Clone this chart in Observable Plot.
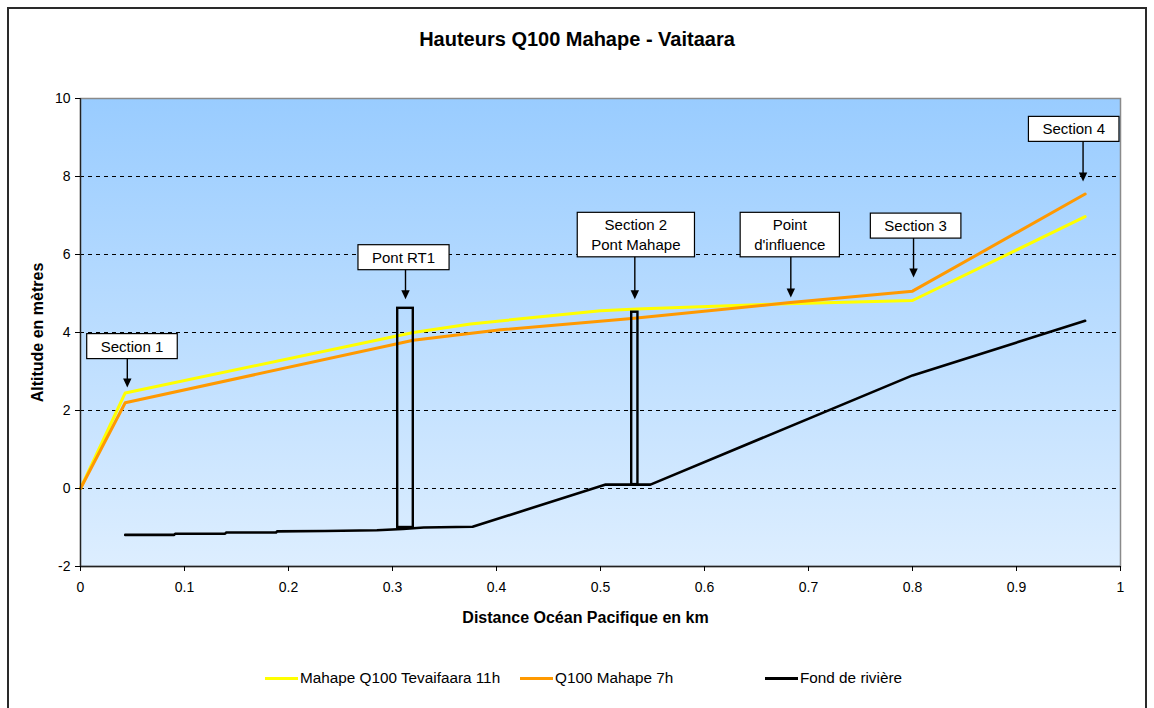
<!DOCTYPE html>
<html>
<head>
<meta charset="utf-8">
<script src="https://cdn.jsdelivr.net/npm/d3@7"></script>
<script src="https://cdn.jsdelivr.net/npm/@observablehq/plot@0.6"></script>
<style>
  html, body { margin: 0; padding: 0; background: #fff; }
  body { font-family: "Liberation Sans", Arial, sans-serif; color: #000; }
  #wrap { position: relative; width: 1154px; height: 708px; overflow: hidden; }
  #border { position: absolute; left: 7px; top: 7px; width: 1140px; height: 780px; border: 2px solid #2a2a2a; box-sizing: border-box; }
  #title { position: absolute; left: 0; top: 28px; width: 1154px; text-align: center; font-weight: bold; font-size: 20px; }
  #chart { position: absolute; left: 0; top: 60px; }
  #legend { position: absolute; left: 0; top: 668px; width: 1154px; height: 22px; font-size: 15.3px; }
  .item { position: absolute; top: 0; display: flex; align-items: center; height: 20px; white-space: nowrap; }
  .sw { display: inline-block; width: 33px; height: 3px; margin-right: 2px; }
</style>
</head>
<body>
<div id="wrap">
  <div id="border"></div>
  <div id="title"></div>
  <div id="chart"></div>
  <div id="legend"></div>
</div>
<script>
// ---------- Données ----------
const titre = "Hauteurs Q100 Mahape - Vaitaara";
const labelX = "Distance Océan Pacifique en km";
const labelY = "Altitude en mètres";

const xTicks = [0, 0.1, 0.2, 0.3, 0.4, 0.5, 0.6, 0.7, 0.8, 0.9, 1];
const yTicks = [-2, 0, 2, 4, 6, 8, 10];
const gridY = [0, 2, 4, 6, 8];

const seriesNames = ["Mahape Q100 Tevaifaara 11h", "Q100 Mahape 7h", "Fond de rivière"];

// Mahape Q100 Tevaifaara 11h
const distTevaifaara = [0, 0.043, 0.32, 0.375, 0.5, 0.535, 0.68, 0.8, 0.966];
const hautTevaifaara = [0, 2.45, 4.0, 4.22, 4.56, 4.6, 4.74, 4.82, 6.97];

// Q100 Mahape 7h
const distMahape7h = [0, 0.043, 0.32, 0.404, 0.53, 0.68, 0.8, 0.966];
const hautMahape7h = [0, 2.2, 3.8, 4.07, 4.36, 4.76, 5.06, 7.55];

// Fond de rivière
const distFond = [0.043, 0.09, 0.091, 0.139, 0.14, 0.188, 0.189, 0.235, 0.285, 0.31, 0.33, 0.377, 0.505, 0.548, 0.8, 0.966];
const altFond = [-1.19, -1.19, -1.16, -1.16, -1.13, -1.13, -1.1, -1.09, -1.07, -1.04, -1.0, -0.98, 0.1, 0.1, 2.9, 4.3];

// Ponts (profil)
const pontNoms = ["Pont RT1", "Pont Mahape"];
const pontDebut = [0.305, 0.530];
const pontFin = [0.320, 0.536];
const pontBas = [-1.0, 0.1];
const pontHaut = [4.62, 4.52];

// Annotations
const annotTextes = ["Section 1", "Pont RT1", "Section 2\nPont Mahape", "Point\nd'influence", "Section 3", "Section 4"];
const annotX = [0.0495, 0.3106, 0.534, 0.682, 0.803, 0.955];
const annotY = [3.67, 5.95, 6.53, 6.53, 6.76, 9.24];
const flecheX = [0.045, 0.3125, 0.533, 0.683, 0.801, 0.964];
const flecheY = [2.59, 4.85, 4.85, 4.9, 5.41, 7.87];

// ---------- Construction ----------
const seriesColors = ["#FFFF00", "#FF9900", "#000000"];
const rows = (xs, ys) => xs.map((d, i) => ({d, h: ys[i]}));
const tevaifaara = rows(distTevaifaara, hautTevaifaara);
const mahape7h = rows(distMahape7h, hautMahape7h);
const fond = rows(distFond, altFond);
const ponts = pontNoms.map((n, i) => ({n, x1: pontDebut[i], x2: pontFin[i], y1: pontBas[i], y2: pontHaut[i]}));
const annots = annotTextes.map((t, i) => ({t, lx: annotX[i], ly: annotY[i], fx: flecheX[i], fy: flecheY[i]}));

const flecheSymbol = {
  draw(ctx) {
    ctx.moveTo(-4.2, -9);
    ctx.lineTo(4.2, -9);
    ctx.lineTo(0, 0);
    ctx.closePath();
  }
};

document.getElementById("title").textContent = titre;

const FONT = "'Liberation Sans', Arial, sans-serif";
const chart = Plot.plot({
  width: 1154,
  height: 576,
  marginLeft: 80,
  marginRight: 34,
  marginTop: 38,
  marginBottom: 70,
  x: {domain: [0, 1]},
  y: {domain: [-2, 10]},
  style: {fontFamily: FONT, fontSize: "14px", color: "#000", background: "transparent", overflow: "visible"},
  marks: [
    Plot.frame({fill: "#99CCFF", stroke: "#8a8a8a", strokeWidth: 1.5, ariaLabel: "fond"}),
    Plot.ruleY(gridY, {stroke: "#000", strokeWidth: 1, strokeDasharray: "4,4"}),
    Plot.line(tevaifaara, {x: "d", y: "h", stroke: seriesColors[0], strokeWidth: 3}),
    Plot.line(mahape7h, {x: "d", y: "h", stroke: seriesColors[1], strokeWidth: 3}),
    Plot.line(fond, {x: "d", y: "h", stroke: seriesColors[2], strokeWidth: 2.6}),
    Plot.rect(ponts, {x1: "x1", x2: "x2", y1: "y1", y2: "y2", fill: "none", stroke: "#000", strokeWidth: 2.4}),
    Plot.ruleX(annots, {x: "fx", y1: "ly", y2: "fy", stroke: "#000", strokeWidth: 1.4, dy: -4}),
    Plot.dot(annots, {x: "fx", y: "fy", symbol: flecheSymbol, fill: "#000", stroke: "none"}),
    Plot.text(annots, {x: "lx", y: "ly", text: "t", fontSize: 15, lineHeight: 1.3, fill: "#000", ariaLabel: "annotations"}),
    Plot.ruleX([0], {stroke: "#222", strokeWidth: 1.3}),
    Plot.ruleY([-2], {stroke: "#222", strokeWidth: 1.3}),
    Plot.axisX({ticks: xTicks, tickSize: 5, tickPadding: 11, tickFormat: d => String(d), label: null, fontSize: 14}),
    Plot.axisY({ticks: yTicks, tickSize: 5, tickPadding: 5, tickFormat: d => String(d), label: null, fontSize: 14}),
    Plot.text([labelY], {frameAnchor: "left", dx: -43, rotate: -90, textAnchor: "middle", lineAnchor: "middle", fontWeight: "bold", fontSize: 16, fill: "#000"}),
    Plot.text([labelX], {frameAnchor: "bottom", dy: 51, dx: -15, textAnchor: "middle", lineAnchor: "middle", fontWeight: "bold", fontSize: 16, fill: "#000"})
  ]
});
document.getElementById("chart").append(chart);

// Dégradé du fond
const ns = "http://www.w3.org/2000/svg";
const defs = document.createElementNS(ns, "defs");
defs.innerHTML = '<linearGradient id="fondGrad" x1="0" y1="0" x2="0" y2="1"><stop offset="0" stop-color="#99CCFF"/><stop offset="1" stop-color="#DDEEFF"/></linearGradient>';
chart.insertBefore(defs, chart.firstChild);
chart.querySelectorAll('[aria-label="fond"] rect, rect[aria-label="fond"]').forEach(r => r.setAttribute("fill", "url(#fondGrad)"));

// Cadres des annotations
const wanted = new Set(annotTextes.map(s => s.replace(/\n/g, "")));
Array.from(chart.querySelectorAll("text")).forEach(t => {
  if (!wanted.has(t.textContent.replace(/\n/g, ""))) return;
  const b = t.getBBox();
  const r = document.createElementNS(ns, "rect");
  r.setAttribute("x", b.x - 14);
  r.setAttribute("y", b.y - 4);
  r.setAttribute("width", b.width + 28);
  r.setAttribute("height", b.height + 8);
  r.setAttribute("fill", "#fff");
  r.setAttribute("stroke", "#000");
  r.setAttribute("stroke-width", "1.2");
  const tr = t.getAttribute("transform");
  if (tr) r.setAttribute("transform", tr);
  t.parentNode.insertBefore(r, t);
});

// Légende
const legendLefts = [265, 520, 765];
const legend = document.getElementById("legend");
seriesNames.forEach((name, i) => {
  const item = document.createElement("div");
  item.className = "item";
  item.style.left = legendLefts[i] + "px";
  const sw = document.createElement("span");
  sw.className = "sw";
  sw.style.background = seriesColors[i];
  const lab = document.createElement("span");
  lab.textContent = name;
  item.append(sw, lab);
  legend.append(item);
});
</script>
</body>
</html>
